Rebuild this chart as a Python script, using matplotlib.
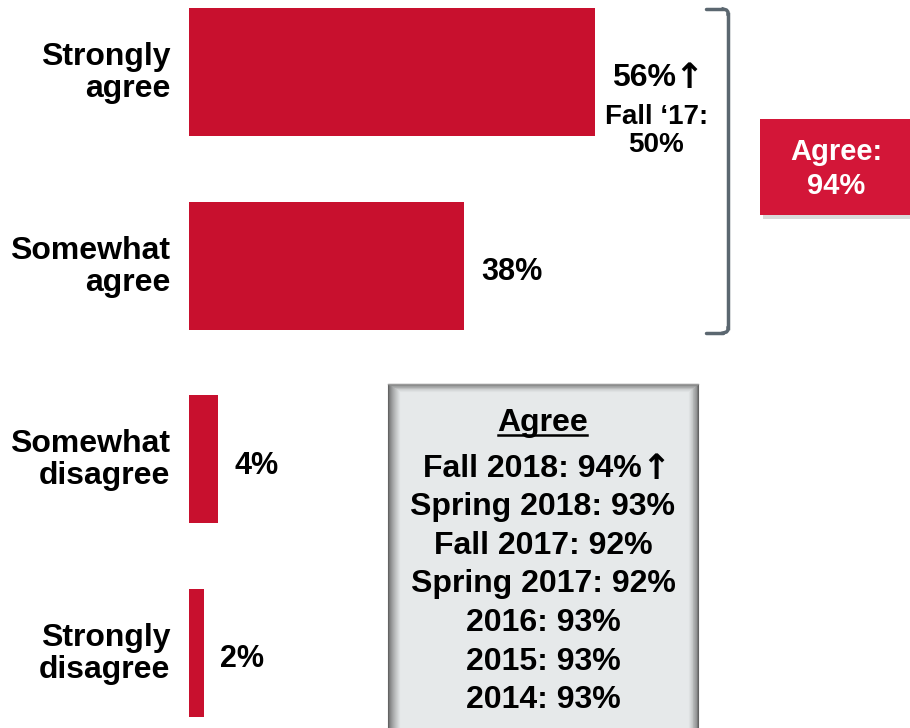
import matplotlib.pyplot as plt
from matplotlib.patches import Rectangle
from matplotlib.transforms import ScaledTranslation
import numpy as np

plt.rcParams['font.family'] = ['Liberation Sans', 'DejaVu Sans']
plt.rcParams['font.weight'] = 'bold'

RED = '#c8102e'
BOX_RED = '#d31638'
UP = '\u2191'

# respuestas
categories = ['Strongly\nagree', 'Somewhat\nagree', 'Somewhat\ndisagree', 'Strongly\ndisagree']
values = [56, 38, 4, 2]
prev_label = 'Fall \u201817:'
prev_value = 50
agree_total = 94

# historial de "Agree"
history_terms = ['Fall 2018', 'Spring 2018', 'Fall 2017', 'Spring 2017', '2016', '2015', '2014']
history_values = [94, 93, 92, 92, 93, 93, 93]

W, H = 910, 728
fig = plt.figure(figsize=(W / 100, H / 100), dpi=100)

# eje de barras: 1% = 7.25 px, categorias separadas 193.5 px
x0 = 189
px_per_pct = 7.25
step = 193.5
first_c = 72
ax = fig.add_axes([x0 / W, 0, 1 - x0 / W, 1])
ax.set_xlim(0, (W - x0) / px_per_pct)
ax.set_ylim((H - first_c) / step, -first_c / step)
pos = np.arange(len(categories))
ax.barh(pos, values, height=128 / step, color=RED)
ax.set_yticks(pos)
ax.set_yticklabels(categories, fontsize=23, fontweight='bold', linespacing=1.07)
ax.tick_params(axis='y', length=0, pad=13.5)
up_shift = ScaledTranslation(0, 3 / 100, fig.dpi_scale_trans)
for lbl in ax.get_yticklabels():
    lbl.set_transform(lbl.get_transform() + up_shift)
ax.set_xticks([])
for s in ax.spines.values():
    s.set_visible(False)
ax.patch.set_visible(False)

for i, v in enumerate(values):
    if i == 0:
        ax.annotate(f'{v}%', xy=(v, i), xytext=(58, -4), textcoords='offset points',
                    ha='right', va='center', fontsize=23, fontweight='bold')
        ax.annotate(UP, xy=(v, i), xytext=(57, -4), textcoords='offset points',
                    ha='left', va='center', fontsize=25, fontweight='bold',
                    family='DejaVu Sans')
        ax.annotate(f'{prev_label}\n{prev_value}%', xy=(v, i), xytext=(44, -23),
                    textcoords='offset points', ha='center', va='top',
                    fontsize=20, fontweight='bold', linespacing=1.12)
    else:
        ax.annotate(f'{v}%', xy=(v, i), xytext=(12, -5), textcoords='offset points',
                    ha='left', va='center', fontsize=22, fontweight='bold')

# capa en pixeles para corchete y cuadros
ov = fig.add_axes([0, 0, 1, 1])
ov.set_xlim(0, W)
ov.set_ylim(H, 0)
ov.axis('off')
ov.patch.set_visible(False)

# corchete
gray = '#5b6770'
bx = 728
ov.plot([706, bx - 5], [9, 9], color=gray, lw=2.5, solid_capstyle='round')
ov.plot([706, bx - 5], [333, 333], color=gray, lw=2.5, solid_capstyle='round')
ov.plot([bx, bx], [14, 328], color=gray, lw=2.5)
ov.plot([bx - 5, bx - 1.5, bx, bx], [9, 10, 12, 14], color=gray, lw=2.5)
ov.plot([bx - 5, bx - 1.5, bx, bx], [333, 332, 330, 328], color=gray, lw=2.5)

# cuadro "Agree: 94%"
ov.add_patch(Rectangle((763, 122), 150, 97, facecolor='#000000', alpha=0.15, lw=0))
ov.add_patch(Rectangle((760, 119), 152, 96, facecolor=BOX_RED, lw=0))
ov.text(836, 169, f'Agree:\n{agree_total}%', ha='center', va='center', color='white',
        fontsize=21, fontweight='bold', linespacing=1.25)

# cuadro gris con historial
gx0, gx1, gy0 = 388, 698, 384
fill = np.array([0xe6, 0xe9, 0xea]) / 255
dark = np.array([0x62, 0x62, 0x62]) / 255
ov.add_patch(Rectangle((gx0, gy0), gx1 - gx0, H - gy0 + 5, facecolor=fill, lw=0))
n = 12
for k in range(n):
    t = (k / n) ** 0.7
    c = dark * (1 - t) + fill * t
    ov.add_patch(Rectangle((gx0 + k, gy0 + k * 0.6), gx1 - gx0 - 2 * k * 0.9, H,
                           facecolor='none', edgecolor=c, lw=0.8))
ov.plot([gx0, gx1], [gy0, gy0], color='#9a9a9a', lw=1)

cx = 543
ov.text(cx, 423, 'Agree', ha='center', va='center', fontsize=23, fontweight='bold')
ov.plot([498, 587], [435, 435], color='black', lw=1.8)
ys = [469, 507, 546, 584, 623, 662, 700]
for j, (term, val) in enumerate(zip(history_terms, history_values)):
    s = f'{term}: {val}%'
    if j == 0:
        ov.text(642, ys[j], s, ha='right', va='center', fontsize=23, fontweight='bold')
        ov.text(641, ys[j], UP, ha='left', va='center', fontsize=25, fontweight='bold',
                family='DejaVu Sans')
    else:
        ov.text(cx, ys[j], s, ha='center', va='center', fontsize=23, fontweight='bold')

fig.savefig('out.png', dpi=100)
